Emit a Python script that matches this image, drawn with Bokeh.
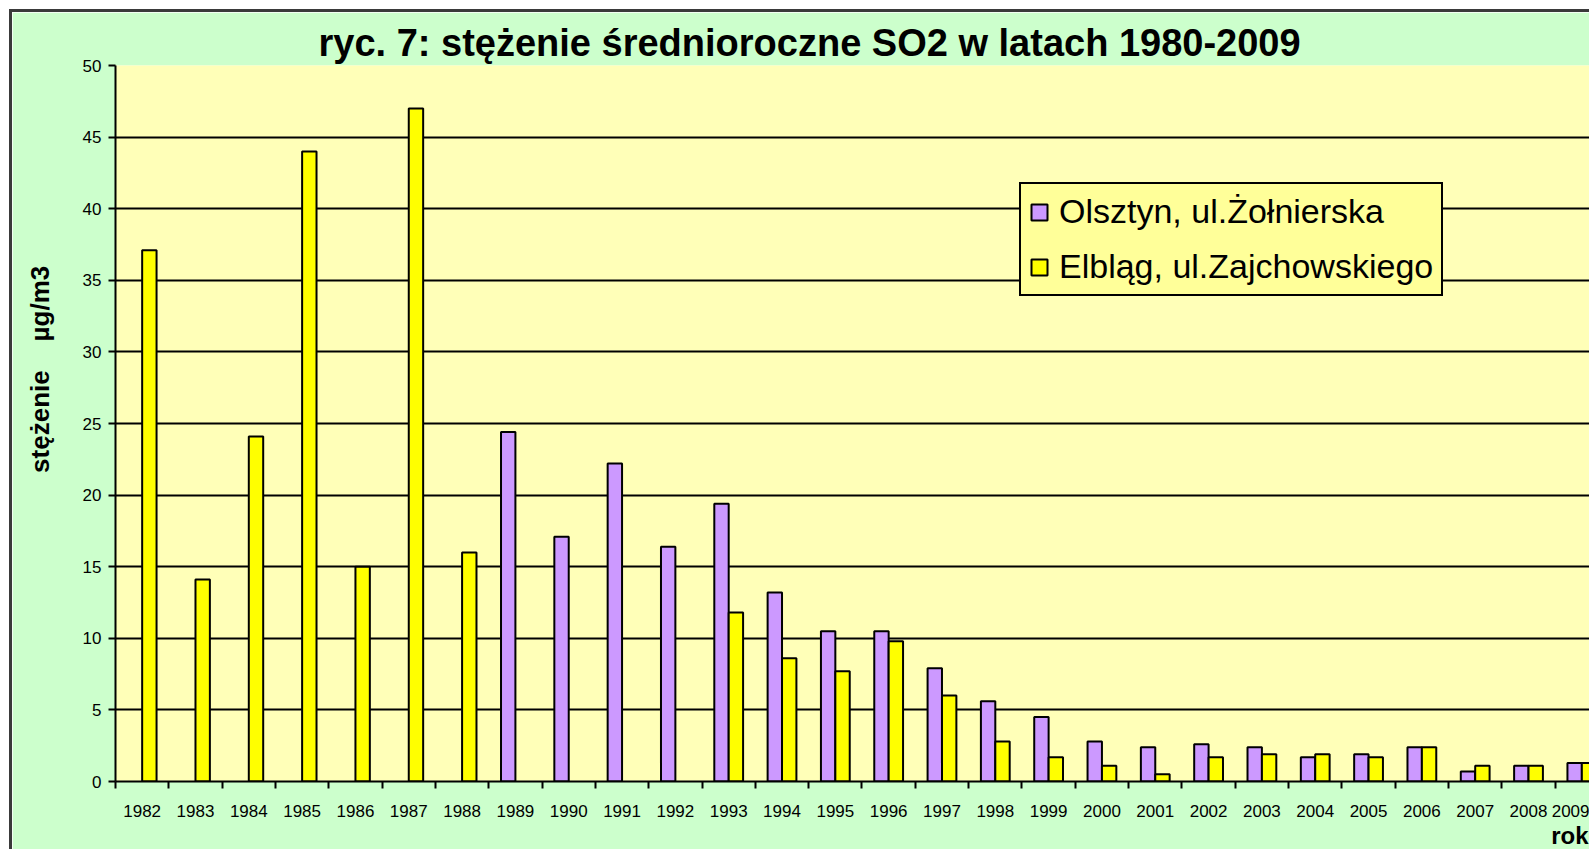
from bokeh.plotting import figure
from bokeh.models import (ColumnDataSource, Range1d, FixedTicker, Legend,
                          LegendItem, Title)
from bokeh.embed import file_html
from bokeh.resources import INLINE

years = list(range(1982, 2010))
olsztyn = [None] * 7 + [24.4, 17.1, 22.2, 16.4, 19.4, 13.2, 10.5, 10.5, 7.9, 5.6,
                        4.5, 2.8, 2.4, 2.6, 2.4, 1.7, 1.9, 2.4, 0.7, 1.1, 1.3]
elblag = [37.1, 14.1, 24.1, 44.0, 15.0, 47.0, 16.0, None, None, None, None,
          11.8, 8.6, 7.7, 9.8, 6.0, 2.8, 1.7, 1.1, 0.5, 1.7, 1.9, 1.9, 1.7,
          2.4, 1.1, 1.1, 1.3]
y_ticks = [0, 5, 10, 15, 20, 25, 30, 35, 40, 45, 50]
series_names = ["Olsztyn, ul.Żołnierska", "Elbląg, ul.Zajchowskiego"]
title_text = "ryc. 7: stężenie średnioroczne SO2 w latach 1980-2009"
NB = "\u00a0"
y_label = NB * 15 + "stężenie" + NB * 4 + "µg/m3"
x_label = "rok"

W, H = 1580, 840
FONT = "Liberation Sans"
BAR_W = 0.27

p = figure(width=W, height=H, output_backend="svg", toolbar_location=None,
           x_range=Range1d(1981.5, 2009.2), y_range=Range1d(0, 50),
           min_border_left=103, min_border_right=0, min_border_top=53,
           min_border_bottom=71)
p.border_fill_color = "#CCFFCC"
p.background_fill_color = "#FFFFB8"
p.outline_line_color = None
p.styles = {"margin-left": "9px", "margin-top": "9px",
            "border-left": "3px solid #3a3a3a", "border-top": "3px solid #3a3a3a"}

o_src = ColumnDataSource(dict(x=[y - BAR_W / 2 for y, v in zip(years, olsztyn) if v is not None],
                              top=[v for v in olsztyn if v is not None]))
e_src = ColumnDataSource(dict(x=[y + BAR_W / 2 for y, v in zip(years, elblag) if v is not None],
                              top=[v for v in elblag if v is not None]))

r_o = p.vbar(x="x", top="top", bottom=0, width=BAR_W, source=o_src,
             fill_color="#CC99FF", line_color="black", line_width=2)
r_e = p.vbar(x="x", top="top", bottom=0, width=BAR_W, source=e_src,
             fill_color="#FFFF00", line_color="black", line_width=2)

# title
p.title.text = title_text
p.title.align = "left"
p.title.offset = 203
p.title.standoff = 4
p.title.text_font = FONT
p.title.text_font_size = "38px"
p.title.text_font_style = "bold"
p.title.text_color = "black"

# axes
xa = p.xaxis[0]
xa.ticker = FixedTicker(ticks=years, minor_ticks=[y - 0.5 for y in years] + [years[-1] + 0.5])
xa.major_label_overrides = {y: str(y) for y in years}
xa.major_tick_line_color = None
xa.major_tick_out = 0
xa.major_tick_in = 0
xa.minor_tick_out = 7
xa.minor_tick_in = 0
xa.minor_tick_line_color = "black"
xa.minor_tick_line_width = 2
xa.axis_line_color = "black"
xa.axis_line_width = 2
xa.major_label_text_font = FONT
xa.major_label_text_font_size = "17px"
xa.major_label_text_color = "black"
xa.major_label_standoff = 16

ya = p.yaxis[0]
ya.ticker = FixedTicker(ticks=y_ticks)
ya.major_tick_out = 7
ya.major_tick_in = 0
ya.major_tick_line_width = 2
ya.major_tick_line_color = "black"
ya.minor_tick_line_color = None
ya.axis_line_color = "black"
ya.axis_line_width = 2
ya.major_label_text_font = FONT
ya.major_label_text_font_size = "17px"
ya.major_label_text_color = "black"
ya.major_label_standoff = 7
ya.axis_label = y_label
ya.axis_label_text_font = FONT
ya.axis_label_text_font_size = "26px"
ya.axis_label_text_font_style = "bold"
ya.axis_label_text_color = "black"
ya.axis_label_standoff = 25

p.add_layout(Title(text=x_label, align="right", offset=4, standoff=0,
                   text_font=FONT, text_font_size="24px", text_font_style="bold",
                   text_color="black"), "below")

p.xgrid.grid_line_color = None
p.ygrid.ticker = FixedTicker(ticks=y_ticks[1:])
p.ygrid.grid_line_color = "black"
p.ygrid.grid_line_width = 2

legend = Legend(items=[LegendItem(label=series_names[0], renderers=[r_o]),
                       LegendItem(label=series_names[1], renderers=[r_e])],
                location=(904, 485))
legend.background_fill_color = "#FFFF99"
legend.background_fill_alpha = 1
legend.border_line_color = "black"
legend.border_line_alpha = 1
legend.border_line_width = 2
legend.label_text_font = FONT
legend.label_text_font_size = "34px"
legend.label_text_color = "black"
legend.glyph_width = 20
legend.glyph_height = 20
legend.label_standoff = 10
legend.padding = 8
legend.spacing = 16
legend.margin = 0
p.add_layout(legend, "center")

open("out.html", "w").write(file_html(p, INLINE))
